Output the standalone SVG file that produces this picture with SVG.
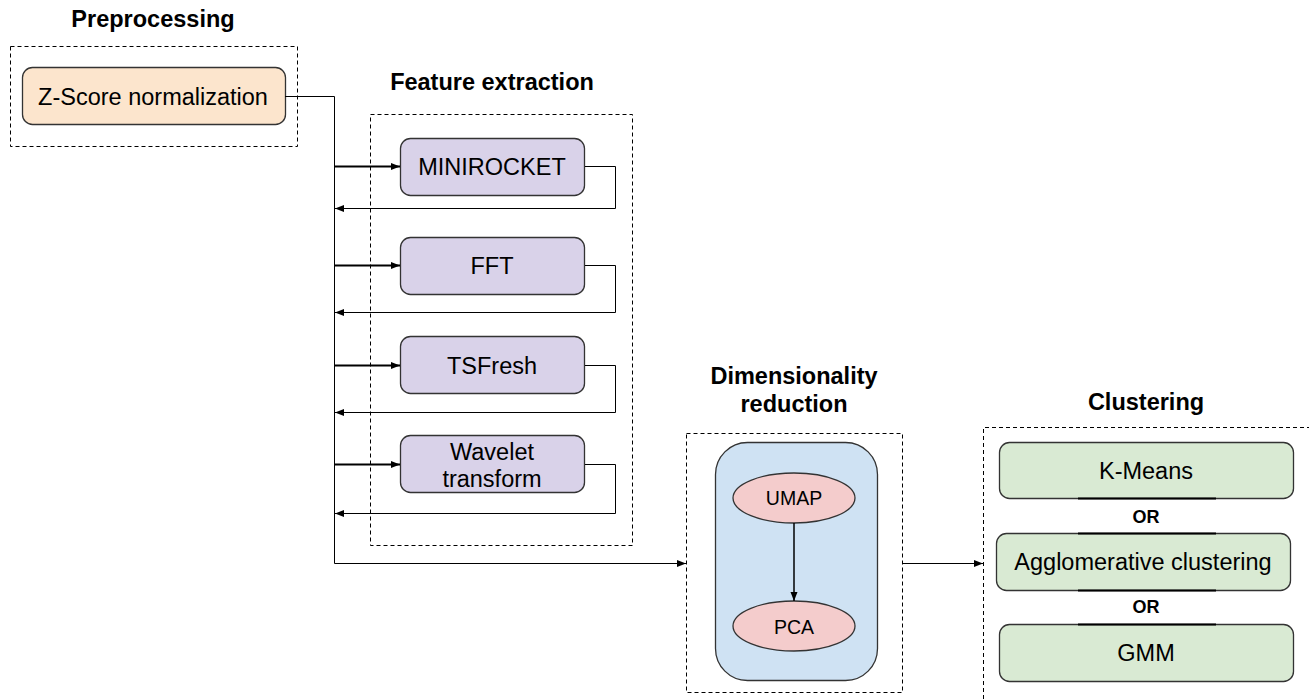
<svg xmlns="http://www.w3.org/2000/svg" width="1309" height="699" viewBox="0 0 1309 699">
<defs>
<style>
.t{font-family:"Liberation Sans",Arial,sans-serif;font-size:23.5px;fill:#000;text-anchor:middle;dominant-baseline:central}
.e{font-family:"Liberation Sans",Arial,sans-serif;font-size:19.5px;fill:#000;text-anchor:middle;dominant-baseline:central}
.h{font-family:"Liberation Sans",Arial,sans-serif;font-size:23.5px;font-weight:bold;fill:#000;text-anchor:middle}
.or{font-family:"Liberation Sans",Arial,sans-serif;font-size:18px;font-weight:bold;fill:#000;text-anchor:middle;dominant-baseline:central}
.grp{fill:none;stroke:#000;stroke-width:1;stroke-dasharray:4 3}
.node{stroke:#333;stroke-width:1.3}
.c{fill:none;stroke:#000;stroke-width:1}
.c2{fill:none;stroke:#000;stroke-width:2}
</style>
<marker id="ah" markerWidth="10" markerHeight="8" refX="9" refY="4" orient="auto" markerUnits="userSpaceOnUse">
<path d="M0,0.5 L9,4 L0,7.5 Z" fill="#000"/>
</marker>
</defs>
<rect width="1309" height="699" fill="#fff"/>

<g id="preprocessing">
<text class="h" x="153" y="27">Preprocessing</text>
<rect class="grp" x="10.5" y="46.5" width="287" height="100"/>
<g id="zscore">
<rect class="node" x="22.5" y="67.5" width="263" height="57" rx="10" fill="#fce5cd"/>
<text class="t" x="153" y="97">Z-Score normalization</text>
</g>
</g>

<g id="feature-extraction">
<text class="h" x="492" y="90">Feature extraction</text>
<rect class="grp" x="370.5" y="114.5" width="262" height="431"/>
<g id="minirocket">
<rect class="node" x="400.5" y="138.5" width="184" height="57" rx="10" fill="#d9d2e9"/>
<text class="t" x="492" y="167">MINIROCKET</text>
</g>
<g id="fft">
<rect class="node" x="400.5" y="237.5" width="184" height="57" rx="10" fill="#d9d2e9"/>
<text class="t" x="492" y="266">FFT</text>
</g>
<g id="tsfresh">
<rect class="node" x="400.5" y="336.5" width="184" height="57" rx="10" fill="#d9d2e9"/>
<text class="t" x="492" y="366">TSFresh</text>
</g>
<g id="wavelet">
<rect class="node" x="400.5" y="435.5" width="184" height="57" rx="10" fill="#d9d2e9"/>
<text class="t" x="492" y="452">Wavelet</text>
<text class="t" x="492" y="479">transform</text>
</g>
</g>

<g id="dimensionality-reduction">
<text class="h" x="794" y="384">Dimensionality</text>
<text class="h" x="794" y="412">reduction</text>
<rect class="grp" x="686.5" y="433.5" width="216" height="259"/>
<rect class="node" x="715.5" y="442.5" width="162" height="238" rx="32" fill="#cfe2f3"/>
<g id="umap">
<ellipse class="node" cx="794" cy="498" rx="61" ry="25" fill="#f4cccc"/>
<text class="e" x="794" y="498">UMAP</text>
</g>
<g id="pca">
<ellipse class="node" cx="794" cy="626" rx="61" ry="25" fill="#f4cccc"/>
<text class="e" x="794" y="627">PCA</text>
</g>
</g>

<g id="clustering">
<text class="h" x="1146" y="410">Clustering</text>
<path class="grp" d="M983.5,699 V427.5 H1309"/>
<g id="kmeans">
<rect class="node" x="999.5" y="442.5" width="294" height="56" rx="10" fill="#d9ead3"/>
<text class="t" x="1146" y="471">K-Means</text>
</g>
<text class="or" x="1146" y="517">OR</text>
<g id="agglomerative">
<rect class="node" x="996.5" y="533.5" width="294" height="57" rx="10" fill="#d9ead3"/>
<text class="t" x="1143" y="562">Agglomerative clustering</text>
</g>
<text class="or" x="1146" y="607">OR</text>
<g id="gmm">
<rect class="node" x="999.5" y="624.5" width="294" height="57" rx="10" fill="#d9ead3"/>
<text class="t" x="1146" y="653">GMM</text>
</g>
</g>

<g id="connectors">
<path class="c" d="M285,96.5 H334.5 V563.5 H686" marker-end="url(#ah)"/>
<path class="c2" d="M334,166.5 H400" marker-end="url(#ah)"/>
<path class="c2" d="M334,265.5 H400" marker-end="url(#ah)"/>
<path class="c2" d="M334,365.5 H400" marker-end="url(#ah)"/>
<path class="c2" d="M334,464.5 H400" marker-end="url(#ah)"/>
<path class="c" d="M585,166.5 H615.5 V208.5 H335" marker-end="url(#ah)"/>
<path class="c" d="M585,265.5 H615.5 V312.5 H335" marker-end="url(#ah)"/>
<path class="c" d="M585,365.5 H615.5 V412.5 H335" marker-end="url(#ah)"/>
<path class="c" d="M585,464.5 H615.5 V513.5 H335" marker-end="url(#ah)"/>
<path class="c" d="M794,523 V601" marker-end="url(#ah)" style="stroke-width:1.5"/>
<path class="c" d="M903,563.5 H983" marker-end="url(#ah)"/>
<path class="c2" d="M1078,498.5 H1216 M1078,533.5 H1216 M1078,590.5 H1216 M1078,624.5 H1216"/>
</g>
</svg>
